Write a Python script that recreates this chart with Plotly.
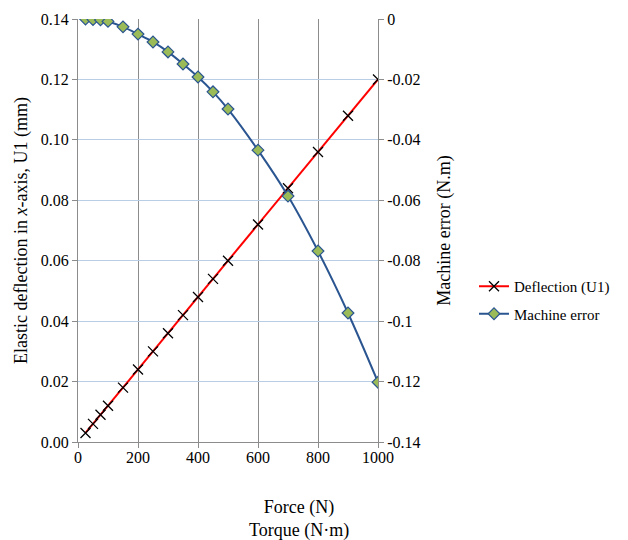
import plotly.graph_objects as go

force = [25, 50, 75, 100, 150, 200, 250, 300, 350, 400, 450, 500, 600, 700, 800, 900, 1000]
deflection = [0.003, 0.006, 0.009, 0.012, 0.018, 0.024, 0.030, 0.036, 0.042, 0.048, 0.054,
              0.060, 0.072, 0.084, 0.096, 0.108, 0.120]
machine_error = [0.0, -0.0002, -0.0003, -0.0008, -0.0026, -0.0050, -0.0076, -0.0109, -0.0149,
                 -0.0192, -0.0241, -0.0298, -0.0434, -0.0586, -0.0768, -0.0973, -0.1202]

left_ticks = [0.00, 0.02, 0.04, 0.06, 0.08, 0.10, 0.12, 0.14]
right_ticks = [0, -0.02, -0.04, -0.06, -0.08, -0.1, -0.12, -0.14]
right_labels = ["0", "-0.02", "-0.04", "-0.06", "-0.08", "-0.1", "-0.12", "-0.14"]
x_ticks = [0, 200, 400, 600, 800, 1000]

FONT = "Liberation Serif, DejaVu Serif, serif"

fig = go.Figure()
fig.add_trace(go.Scatter(
    x=force, y=deflection, name="Deflection (U1)", mode="lines+markers",
    line=dict(color="#ff0000", width=2), legendgroup="a",
    marker=dict(symbol="x-thin", size=10, line=dict(color="black", width=1.3), color="black"),
    yaxis="y"))
fig.add_trace(go.Scatter(
    x=force, y=machine_error, name="Machine error", mode="lines+markers",
    line=dict(color="#2a5590", width=2, shape="spline"), legendgroup="b",
    marker=dict(symbol="diamond", size=9, color="#9bbb59", line=dict(color="#2a5590", width=1.2)),
    yaxis="y2"))

W, H = 620, 532
L, T, PW, PH = 70, 11, 300, 423

axis_common = dict(showline=True, linecolor="#8c8c8c", linewidth=1, ticks="outside", ticklen=5,
                   tickcolor="#8c8c8c", zeroline=False, automargin=False)

fig.update_layout(
    width=W, height=H,
    margin=dict(l=L, r=W - L - PW, t=T, b=H - T - PH, autoexpand=False),
    paper_bgcolor="white", plot_bgcolor="white",
    font=dict(family=FONT, size=16, color="black"),
    showlegend=True,
    legend=dict(x=(466 - L) / PW, y=(T + PH - 292) / PH, xanchor="left", yanchor="middle",
                font=dict(size=15), bgcolor="rgba(0,0,0,0)", tracegroupgap=5),
    xaxis=dict(range=[0, 1000], tickvals=x_ticks, showgrid=True, gridcolor="#8c8c8c", gridwidth=1,
               ticklabelstandoff=-4, **axis_common),
    yaxis=dict(range=[0, 0.14], tickvals=left_ticks, tickformat=".2f", showgrid=True,
               gridcolor="#b9cde5", gridwidth=1, **axis_common,
               title=dict(text="Elastic deflection in <i>x</i>-axis, U1 (mm)", font=dict(size=18), standoff=8)),
    yaxis2=dict(range=[-0.14, 0], tickvals=right_ticks, ticktext=right_labels,
                overlaying="y", side="right", showgrid=False, **axis_common,
                title=dict(text="Machine error (N.m)", font=dict(size=18), standoff=17)),
    annotations=[dict(text="Force (N)<br>Torque (N·m)", x=(291 - L) / PW, y=-(511 - (T + PH)) / PH,
                      xref="paper", yref="paper", xanchor="center", yanchor="middle",
                      showarrow=False, font=dict(size=18))],
)

fig.write_html("out.html")
